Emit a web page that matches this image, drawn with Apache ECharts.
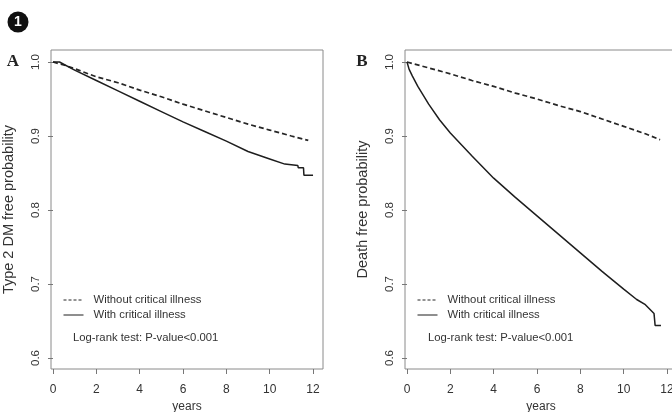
<!DOCTYPE html>
<html>
<head>
<meta charset="utf-8">
<script src="https://cdn.jsdelivr.net/npm/echarts@6/dist/echarts.min.js"></script>
<style>
html,body{margin:0;padding:0;background:#fff;}
#chart{width:672px;height:412px;}
</style>
</head>
<body>
<div id="chart"></div>
<script>
// ---- data ----
const xTicks = [0, 2, 4, 6, 8, 10, 12];
const yTicks = [0.6, 0.7, 0.8, 0.9, 1.0];
const seriesNames = ['Without critical illness', 'With critical illness'];
const panelLabels = ['A', 'B'];
const yTitles = ['Type 2 DM free probability', 'Death free probability'];
const xTitle = 'years';
const testText = 'Log-rank test: P-value<0.001';

// Panel A: Type 2 DM free probability
const aWithoutT = [0, 0.5, 1, 2, 3, 4, 5, 6, 7, 8, 9, 10, 11, 11.78];
const aWithoutS = [1.0, 0.996, 0.991, 0.980, 0.972, 0.962, 0.953, 0.943, 0.934, 0.925, 0.916, 0.908, 0.900, 0.894];
const aWithT = [0, 0.3, 1, 2, 3, 4, 5, 6, 7, 8, 9, 10, 10.7, 11.3, 11.32, 11.56, 11.58, 12.0];
const aWithS = [1.0, 1.0, 0.989, 0.975, 0.961, 0.947, 0.933, 0.919, 0.906, 0.893, 0.879, 0.869, 0.862, 0.860, 0.857, 0.857, 0.847, 0.847];

// Panel B: Death free probability
const bWithoutT = [0, 1, 2, 3, 4, 5, 6, 7, 8, 9, 10, 11, 11.68];
const bWithoutS = [1.0, 0.992, 0.984, 0.975, 0.967, 0.958, 0.950, 0.941, 0.933, 0.923, 0.913, 0.903, 0.895];
const bWithT = [0, 0.1, 0.25, 0.5, 1, 1.5, 2, 3, 4, 5, 6, 7, 8, 9, 10, 10.6, 11, 11.4, 11.45, 11.72];
const bWithS = [1.0, 0.990, 0.981, 0.967, 0.943, 0.922, 0.904, 0.873, 0.843, 0.817, 0.792, 0.767, 0.742, 0.717, 0.693, 0.679, 0.672, 0.660, 0.644, 0.644];

// ---- chart ----
const pairs = (t, s) => t.map((v, i) => [v, s[i]]);
const FONT = 'Liberation Sans, Arial, sans-serif';
const TXT = '#333';

const gridLefts = [51, 405];
const grids = gridLefts.map(l => ({
  left: l, top: 50, width: 272, height: 319,
  show: true, borderColor: '#8a8a8a', borderWidth: 1,
  containLabel: false, outerBoundsMode: 'none'
}));

const xAxes = [0, 1].map(i => ({
  type: 'value', gridIndex: i, min: -0.092, max: 12.46,
  name: xTitle, nameLocation: 'middle', nameGap: 32,
  nameTextStyle: { fontFamily: FONT, fontSize: 12, color: TXT },
  axisLine: { show: false },
  axisTick: { show: true, length: 5, customValues: xTicks, lineStyle: { color: '#777' } },
  axisLabel: { customValues: xTicks, margin: 15, fontFamily: FONT, fontSize: 12, color: TXT },
  splitLine: { show: false }
}));

const yAxes = [0, 1].map(i => ({
  type: 'value', gridIndex: i, min: 0.5851, max: 1.0162,
  name: yTitles[i], nameLocation: 'middle', nameGap: 35, nameRotate: 90,
  nameTextStyle: { fontFamily: FONT, fontSize: 14.5, color: TXT },
  axisLine: { show: false },
  axisTick: { show: true, length: 5, customValues: yTicks, lineStyle: { color: '#777' } },
  axisLabel: { customValues: yTicks, rotate: 90, margin: 9, fontFamily: FONT, fontSize: 11.5, color: TXT,
    formatter: v => v.toFixed(1) },
  splitLine: { show: false }
}));

const solid = { color: '#1e1e1e', width: 1.5, type: 'solid' };
const dashed = { color: '#262626', width: 1.7, type: [5, 3] };
function mk(name, idx, data, ls) {
  return { name, type: 'line', xAxisIndex: idx, yAxisIndex: idx, data, symbol: 'none', showSymbol: false,
    lineStyle: ls, itemStyle: { color: ls.color }, animation: false, silent: true };
}
const series = [
  mk(seriesNames[0], 0, pairs(aWithoutT, aWithoutS), dashed),
  mk(seriesNames[1], 0, pairs(aWithT, aWithS), solid),
  mk(seriesNames[0], 1, pairs(bWithoutT, bWithoutS), dashed),
  mk(seriesNames[1], 1, pairs(bWithT, bWithS), solid)
];

const legends = [63, 417].map(l => ({
  data: [
    { name: seriesNames[0], lineStyle: { width: 1, type: [3, 2] } },
    { name: seriesNames[1], lineStyle: { width: 1 } }
  ],
  left: l, top: 294.5, orient: 'vertical', padding: 0,
  itemWidth: 20, itemHeight: 12, itemGap: 4, selectedMode: false,
  lineStyle: { width: 1 },
  itemStyle: { opacity: 0, borderWidth: 0, color: 'rgba(0,0,0,0)' },
  textStyle: { fontFamily: FONT, fontSize: 11.3, color: TXT, padding: [0, 0, 0, 5] }
}));

const graphic = [
  { type: 'circle', shape: { cx: 18, cy: 22, r: 10.5 }, style: { fill: '#111' } },
  { type: 'text', x: 18, y: 22.5, style: { text: '1', fill: '#fff', font: 'bold 14px ' + FONT, align: 'center', verticalAlign: 'middle' } },
  { type: 'text', x: 13, y: 62, style: { text: panelLabels[0], fill: '#222', font: 'bold 17px "Liberation Serif", serif', align: 'center', verticalAlign: 'middle' } },
  { type: 'text', x: 362, y: 62, style: { text: panelLabels[1], fill: '#222', font: 'bold 17px "Liberation Serif", serif', align: 'center', verticalAlign: 'middle' } },
  { type: 'text', x: 73, y: 338, style: { text: testText, fill: TXT, font: '11.3px ' + FONT, verticalAlign: 'middle' } },
  { type: 'text', x: 428, y: 338, style: { text: testText, fill: TXT, font: '11.3px ' + FONT, verticalAlign: 'middle' } }
];

const chart = echarts.init(document.getElementById('chart'), null, { renderer: 'canvas' });
chart.setOption({
  backgroundColor: '#fff',
  animation: false,
  grid: grids,
  xAxis: xAxes,
  yAxis: yAxes,
  legend: legends,
  series,
  graphic
});
</script>
</body>
</html>
